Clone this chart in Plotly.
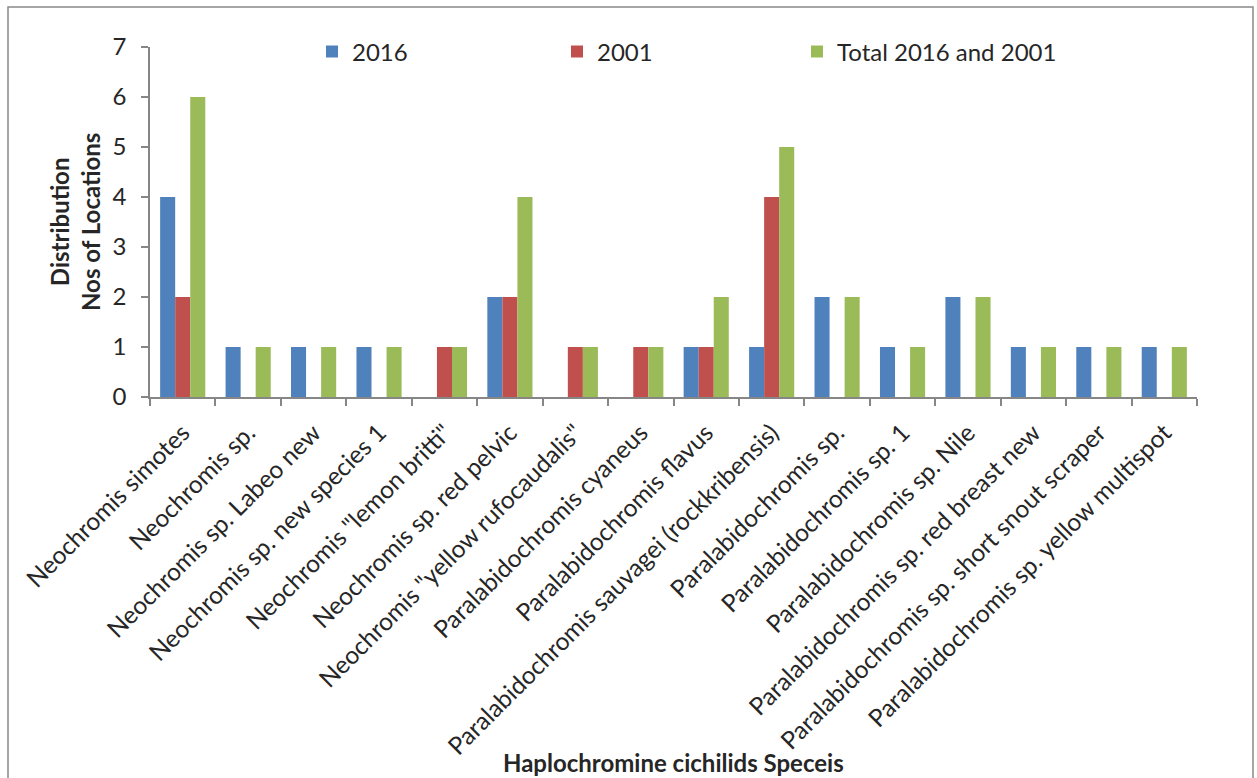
import plotly.graph_objects as go

categories = [
    "Neochromis simotes",
    "Neochromis sp.",
    "Neochromis sp. Labeo new",
    "Neochromis sp. new species 1",
    "Neochromis \"lemon britti\"",
    "Neochromis sp. red pelvic",
    "Neochromis \"yellow rufocaudalis\"",
    "Paralabidochromis cyaneus",
    "Paralabidochromis flavus",
    "Paralabidochromis sauvagei (rockkribensis)",
    "Paralabidochromis sp.",
    "Paralabidochromis sp. 1",
    "Paralabidochromis sp. Nile",
    "Paralabidochromis sp. red breast new",
    "Paralabidochromis sp. short snout scraper",
    "Paralabidochromis sp. yellow multispot",
]
vals_2016 = [4, 1, 1, 1, 0, 2, 0, 0, 1, 1, 2, 1, 2, 1, 1, 1]
vals_2001 = [2, 0, 0, 0, 1, 2, 1, 1, 1, 4, 0, 0, 0, 0, 0, 0]
vals_total = [6, 1, 1, 1, 1, 4, 1, 1, 2, 5, 2, 1, 2, 1, 1, 1]

FONT = "Lato"
W, H = 1257, 778
L, R, T, B = 150, 60, 47, 381
pw, ph = W - L - R, H - T - B

def px_x(x):
    return (x - L) / pw

def px_y(y):
    return (H - B - y) / ph

fig = go.Figure()
series = [("2016", vals_2016, "#4F81BD", "legend", 312),
          ("2001", vals_2001, "#C0504D", "legend2", 557),
          ("Total 2016 and 2001", vals_total, "#9BBB59", "legend3", 797)]
legends = {}
for name, vals, col, lg, lx in series:
    fig.add_trace(go.Bar(x=categories, y=vals, name=name, legend=lg,
                         marker=dict(color=col, line=dict(width=0))))
    legends[lg] = dict(orientation="h", x=px_x(lx), y=px_y(52), xanchor="left",
                       yanchor="middle", font=dict(size=24, family=FONT),
                       bgcolor="rgba(0,0,0,0)", itemwidth=30)

fig.update_layout(
    width=W, height=H,
    margin=dict(l=L, r=R, t=T, b=B),
    barmode="group", bargap=0.31, bargroupgap=0,
    paper_bgcolor="white", plot_bgcolor="white",
    font=dict(family=FONT, size=24, color="#262626"),
    showlegend=True,
    **legends,
    xaxis=dict(showline=True, linecolor="#868686", linewidth=1.5,
               ticks="outside", ticklen=7, tickcolor="#868686", tickwidth=1.5,
               tickson="boundaries", tickangle=-45, showgrid=False,
               ticklabelstandoff=10,
               tickfont=dict(size=24.5, family=FONT)),
    yaxis=dict(range=[0, 7], dtick=1, showline=True, linecolor="#868686", linewidth=1.5,
               ticks="outside", ticklen=7, tickcolor="#868686", tickwidth=1.5,
               showgrid=False, zeroline=False, ticklabelstandoff=10,
               tickfont=dict(size=24, family=FONT)),
    annotations=[
        dict(text="<b>Haplochromine cichilids Speceis</b>", x=px_x(673), y=px_y(762),
             xref="paper", yref="paper", showarrow=False, font=dict(size=24, family=FONT),
             xanchor="center", yanchor="middle"),
        dict(text="<b>Distribution<br>Nos of Locations</b>", x=px_x(75), y=px_y(222),
             xref="paper", yref="paper", showarrow=False, textangle=-90,
             font=dict(size=24, family=FONT), xanchor="center", yanchor="middle"),
    ],
    shapes=[dict(type="rect", xref="paper", yref="paper",
                 x0=px_x(8), x1=px_x(1253), y0=px_y(790), y1=px_y(7),
                 line=dict(color="#898989", width=1.5), fillcolor="rgba(0,0,0,0)")],
)

fig.write_html("out.html")
